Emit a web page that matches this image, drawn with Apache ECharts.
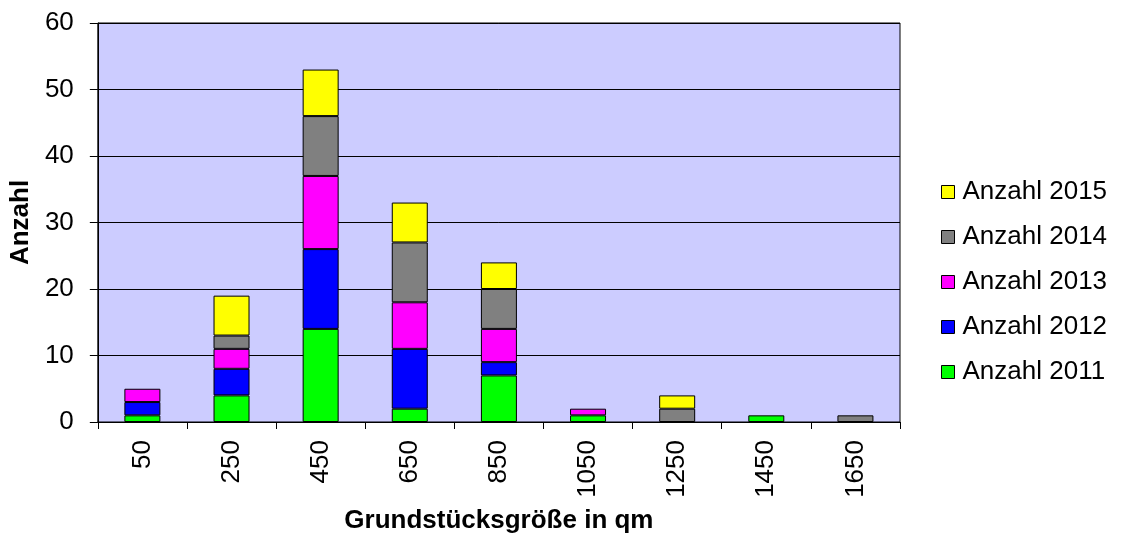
<!DOCTYPE html>
<html>
<head>
<meta charset="utf-8">
<script src="https://cdn.jsdelivr.net/npm/echarts@6/dist/echarts.min.js"></script>
<style>
  html, body { margin: 0; padding: 0; background: #fff; }
  #chart { width: 1122px; height: 539px; }
</style>
</head>
<body>
<div id="chart"></div>
<script>
// Grundstücksgröße (Klassenmitte in qm)
const categories = ['50', '250', '450', '650', '850', '1050', '1250', '1450', '1650'];

// Anzahl je Jahr, von unten nach oben gestapelt
const anzahl2011 = [1, 4, 14, 2, 7, 1, 0, 1, 0];
const anzahl2012 = [2, 4, 12, 9, 2, 0, 0, 0, 0];
const anzahl2013 = [2, 3, 11, 7, 5, 1, 0, 0, 0];
const anzahl2014 = [0, 2, 9, 9, 6, 0, 2, 0, 1];
const anzahl2015 = [0, 6, 7, 6, 4, 0, 2, 0, 0];

const seriesNames = ['Anzahl 2011', 'Anzahl 2012', 'Anzahl 2013', 'Anzahl 2014', 'Anzahl 2015'];
const seriesData = [anzahl2011, anzahl2012, anzahl2013, anzahl2014, anzahl2015];
const colors = ['#00FF00', '#0000FF', '#FF00FF', '#808080', '#FFFF00'];

const font = '"Liberation Sans", Arial, sans-serif';

const chart = echarts.init(document.getElementById('chart'), null, { renderer: 'canvas' });

chart.setOption({
  animation: false,
  grid: {
    left: 96, right: 222, top: 23, bottom: 117,
    show: true,
    backgroundColor: '#CCCCFF',
    borderColor: '#000',
    borderWidth: 1
  },
  legend: {
    orient: 'vertical',
    left: 936,
    top: 174,
    itemWidth: 13,
    itemHeight: 13,
    itemGap: 19,
    icon: 'rect',
    data: seriesNames.slice().reverse(),
    textStyle: { fontFamily: font, fontSize: 26, lineHeight: 26, color: '#000', padding: [0, 0, 0, 3] },
    itemStyle: { borderColor: '#000', borderWidth: 1 }
  },
  xAxis: {
    type: 'category',
    data: categories,
    name: 'Grundstücksgröße in qm',
    nameLocation: 'middle',
    nameGap: 86,
    nameTextStyle: { fontFamily: font, fontSize: 26, fontWeight: 'bold', color: '#000' },
    axisLine: { lineStyle: { color: '#000', width: 1 } },
    axisTick: { show: true, length: 7, lineStyle: { color: '#000' } },
    axisLabel: { rotate: 90, margin: 18, fontFamily: font, fontSize: 26, color: '#000' }
  },
  yAxis: {
    type: 'value',
    min: 0, max: 60, interval: 10,
    name: 'Anzahl',
    nameLocation: 'middle',
    nameGap: 62,
    nameTextStyle: { fontFamily: font, fontSize: 26, fontWeight: 'bold', color: '#000' },
    axisLine: { show: true, lineStyle: { color: '#000', width: 1 } },
    axisTick: { show: true, length: 8, lineStyle: { color: '#000' } },
    axisLabel: { margin: 24, fontFamily: font, fontSize: 26, color: '#000' },
    splitLine: { show: true, lineStyle: { color: '#000', width: 1 } }
  },
  series: seriesNames.map((name, i) => ({
    name: name,
    type: 'bar',
    stack: 'total',
    barWidth: 36,
    data: seriesData[i].map(v => (v === 0 ? null : v)),
    itemStyle: { color: colors[i], borderColor: '#000', borderWidth: 1 },
    silent: true
  }))
});
</script>
</body>
</html>
